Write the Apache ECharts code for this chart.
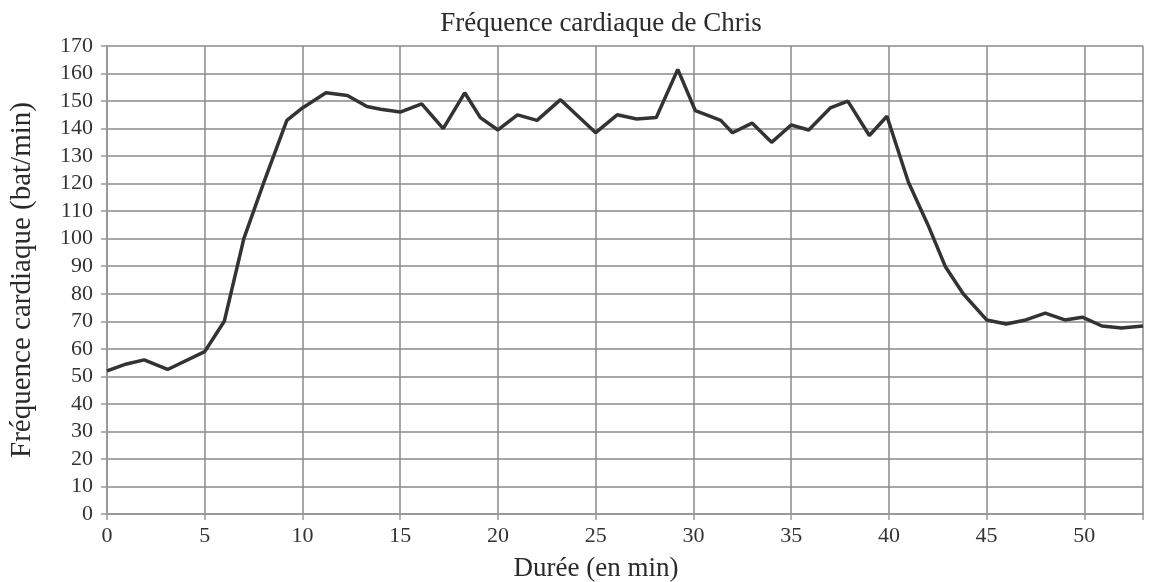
<!DOCTYPE html>
<html><head><meta charset="utf-8">
<script src="https://cdn.jsdelivr.net/npm/echarts@6/dist/echarts.min.js"></script>
<style>html,body{margin:0;padding:0;background:#fff}#c{width:1149px;height:582px}</style>
</head><body><div id="c"></div>
<script>
const titleText = 'Fréquence cardiaque de Chris';
const xName = 'Durée (en min)';
const yName = 'Fréquence cardiaque (bat/min)';
const minutes = [0,1,1.9,3.1,5,6,7,8,9.2,10,11.2,12.3,13.3,14,15,16.1,17.2,18.3,19.1,20,21,22,23.2,25,26.1,27.1,28.1,29.2,30.1,31.4,32,33,34,35,35.9,37,37.9,39,39.9,41,42,42.9,43.8,45,46,47,48,49,49.9,50.9,51.9,53];
const bpm = [52,54.5,56,52.5,59,70,100,120,143,147.5,153,152,148,147,146,149,140,153,144,139.5,145,143,150.5,138.5,145,143.5,144,161.5,146.5,143,138.5,142,135,141.3,139.5,147.5,150,137.5,144.5,120.5,105,89.7,80,70.5,69,70.5,73,70.5,71.5,68.3,67.6,68.3];
const data = minutes.map((m,i)=>[m,bpm[i]]);
const font = 'Liberation Serif';
const chart = echarts.init(document.getElementById('c'));
chart.setOption({
  animation:false,
  title:{text:titleText,left:596,textAlign:'center',top:5,textStyle:{fontFamily:font,fontSize:27,fontWeight:'normal',color:'#2a2a2a'}},
  grid:{left:107,right:6,top:46,bottom:68,containLabel:false,outerBoundsMode:'none'},
  xAxis:{type:'value',min:0,max:53,interval:5,
    name:xName,nameLocation:'middle',nameGap:41,
    nameTextStyle:{fontFamily:font,fontSize:27,color:'#2a2a2a',padding:[0,58,0,0]},
    axisLine:{lineStyle:{color:'#999',width:2}},
    axisTick:{show:true,length:6,lineStyle:{color:'#999',width:1.5}},
    axisLabel:{fontFamily:font,fontSize:22,color:'#333',margin:11,formatter:v=>v===53?'':String(v)},
    splitLine:{show:true,lineStyle:{color:'#8a8a8a',width:1.5}}},
  yAxis:{type:'value',min:0,max:170,interval:10,
    name:yName,nameLocation:'middle',nameGap:70,
    nameTextStyle:{fontFamily:font,fontSize:29,color:'#2a2a2a'},
    axisLine:{show:true,lineStyle:{color:'#999',width:2}},
    axisTick:{show:true,length:6,lineStyle:{color:'#999',width:1.5}},
    axisLabel:{fontFamily:font,fontSize:22,color:'#333',margin:14},
    splitLine:{show:true,lineStyle:{color:'#8a8a8a',width:1.5}}},
  series:[{type:'line',data:data,symbol:'none',lineStyle:{color:'#333',width:3.5},z:5}]
});
</script></body></html>
